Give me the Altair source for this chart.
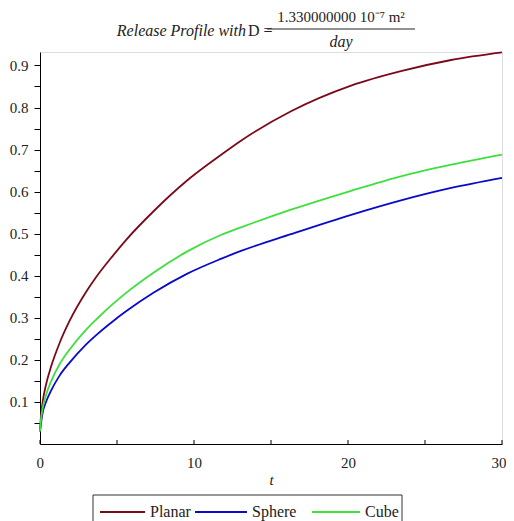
import altair as alt
import pandas as pd

# ---- data ----
t_values = [0, 0.05, 0.17, 0.39, 0.72, 1.26, 1.91, 3.0, 3.65, 4.74, 5.61, 7.39, 9.57,
            11.74, 13.05, 16.3, 20.2, 23.5, 26.7, 30]
planar = [0.03, 0.06, 0.099, 0.141, 0.184, 0.239, 0.292, 0.362, 0.397, 0.448, 0.486, 0.554, 0.627,
          0.687, 0.721, 0.791, 0.852, 0.887, 0.913, 0.931]
sphere = [0.03, 0.045, 0.074, 0.100, 0.127, 0.162, 0.193, 0.237, 0.259, 0.292, 0.316, 0.360, 0.405,
          0.440, 0.459, 0.499, 0.545, 0.580, 0.609, 0.633]
cube = [0.03, 0.052, 0.085, 0.116, 0.149, 0.189, 0.224, 0.272, 0.296, 0.333, 0.360, 0.408, 0.458,
        0.497, 0.515, 0.557, 0.602, 0.637, 0.664, 0.688]

series_names = ["Planar", "Sphere", "Cube"]
series_colors = ["#7a0a1a", "#0a0ac8", "#3ee03e"]

x_ticks = [0, 5, 10, 15, 20, 25, 30]
y_ticks = [0.05, 0.1, 0.15, 0.2, 0.25, 0.3, 0.35, 0.4, 0.45, 0.5, 0.55, 0.6, 0.65, 0.7, 0.75, 0.8, 0.85, 0.9]

title_left = "Release Profile with"
title_mid = "D ="
title_num = "1.330000000 10\u207b\u2077 m\u00b2"
title_den = "day"

rows = []
for name, vals in zip(series_names, [planar, sphere, cube]):
    for t, v in zip(t_values, vals):
        rows.append({"t": t, "value": v, "series": name})
df = pd.DataFrame(rows)

SERIF = "Liberation Serif"
INK = "#222"
W, H = 462, 392

x_scale = alt.Scale(domain=[0, 30], nice=False)
y_scale = alt.Scale(domain=[0, 0.932], nice=False, zero=False)

lines = alt.Chart(df).mark_line(strokeWidth=1.8, interpolate="monotone").encode(
    x=alt.X("t:Q", scale=x_scale,
            axis=alt.Axis(values=x_ticks, title="t", titleFont=SERIF, titleFontStyle="italic",
                          titleFontWeight="normal", titleFontSize=15, titleColor=INK,
                          titlePadding=2,
                          labelExpr="datum.value % 10 == 0 ? datum.label : ''",
                          labelFlush=True, labelFlushOffset=4,
                          labelFont=SERIF, labelFontSize=15, labelColor=INK, labelPadding=11,
                          grid=False, ticks=False, tickSize=0, domainColor="black")),
    y=alt.Y("value:Q", scale=y_scale,
            axis=alt.Axis(values=y_ticks, title=None,
                          labelExpr="abs(datum.value*10 - round(datum.value*10)) < 0.01 ? format(datum.value, '.1f') : ''",
                          labelFont=SERIF, labelFontSize=15, labelColor=INK, labelPadding=6,
                          grid=False, tickSize=6, domainColor="black", tickColor="black")),
    color=alt.Color("series:N", scale=alt.Scale(domain=series_names, range=series_colors),
                    legend=None),
)

# inward-pointing x ticks, drawn through the x scale
xt = alt.Chart(pd.DataFrame({"t": x_ticks})).mark_rule(color="black", strokeWidth=1).encode(
    x=alt.X("t:Q", scale=x_scale), y=alt.value(H), y2=alt.value(H - 4))

# title (fraction)
one = pd.DataFrame({"a": [0]})
def txt(s, x, y, align="center", italic=False, size=16):
    return alt.Chart(one).mark_text(font=SERIF, fontStyle="italic" if italic else "normal",
                                    fontSize=size, align=align, baseline="middle",
                                    color=INK).encode(x=alt.value(x), y=alt.value(y), text=alt.value(s))

t_left = txt(title_left, 206, -21, align="right", italic=True)
t_mid = txt(title_mid, 208, -21, align="left")
t_num = txt(title_num, 301, -35, size=15)
t_den = txt(title_den, 301, -10, italic=True)
t_bar = alt.Chart(one).mark_rule(color=INK, strokeWidth=1).encode(
    x=alt.value(227), x2=alt.value(375), y=alt.value(-23))

# legend box with stroke samples
LEG_X0, LEG_X1, LEG_Y0, LEG_Y1 = 53, 362, 443, 485
leg_box = alt.Chart(one).mark_rect(fill="white", stroke="#333", strokeWidth=1).encode(
    x=alt.value(LEG_X0), x2=alt.value(LEG_X1), y=alt.value(LEG_Y0), y2=alt.value(LEG_Y1))
leg_line_x = [60, 155, 272]
leg_line_len = [45, 52, 48]
leg_layers = [leg_box]
for name, col, lx, ll in zip(series_names, series_colors, leg_line_x, leg_line_len):
    leg_layers.append(alt.Chart(one).mark_rule(color=col, strokeWidth=2.2).encode(
        x=alt.value(lx), x2=alt.value(lx + ll), y=alt.value(460)))
    leg_layers.append(txt(name, lx + ll + 5, 460, align="left"))

chart = alt.layer(lines, xt, t_left, t_mid, t_num, t_den, t_bar, *leg_layers).properties(
    width=W, height=H,
    autosize=alt.AutoSizeParams(type="none"),
    padding={"left": 32, "top": 44, "right": 4, "bottom": 77},
).configure_view(stroke=None).configure(background="white")

chart.save("out.html", embed_options={"renderer": "svg", "actions": False})
